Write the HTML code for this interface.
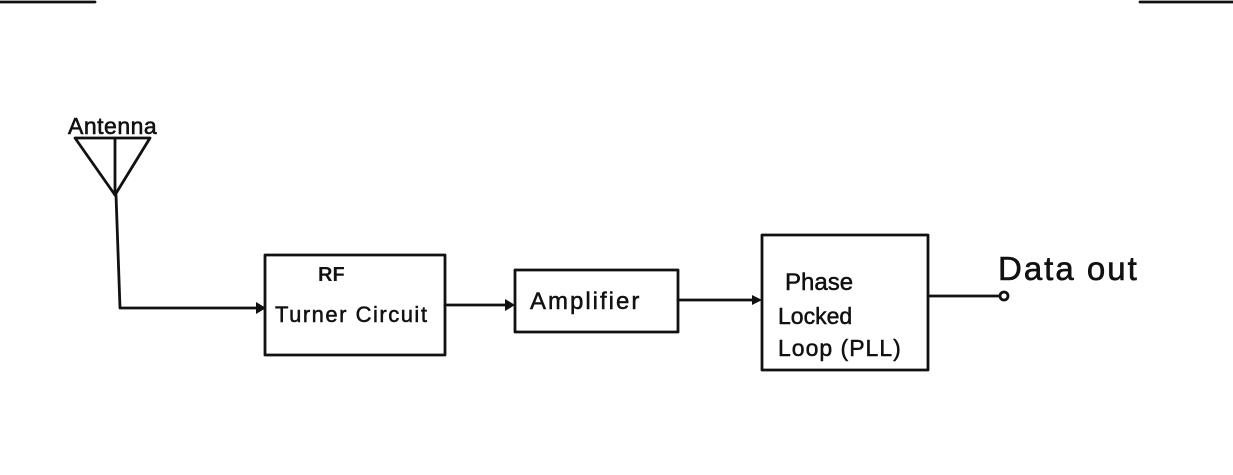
<!DOCTYPE html>
<html><head><meta charset="utf-8"><style>
html,body{margin:0;padding:0;background:#fff;}
svg{display:block}
text{font-family:"Liberation Sans",sans-serif;fill:#111;}
</style></head><body>
<svg width="1233" height="475" viewBox="0 0 1233 475" xmlns="http://www.w3.org/2000/svg">
<g stroke="#111" stroke-width="2.8" fill="none" stroke-linecap="round" stroke-linejoin="round">
<line x1="0" y1="2" x2="95" y2="2"/>
<line x1="1140" y1="2" x2="1233" y2="2"/>
<polygon points="75,138 150,138 115,195"/>
<line x1="115" y1="138" x2="115" y2="195"/>
<polyline points="116,195 120,308 258,308"/>
<rect x="265" y="255" width="180" height="100"/>
<line x1="445" y1="305" x2="507" y2="305"/>
<rect x="515" y="270" width="163" height="62"/>
<line x1="678" y1="300" x2="752" y2="300"/>
<rect x="762" y="235" width="166" height="135"/>
<line x1="928" y1="296" x2="1000" y2="296"/>
</g>
<g fill="#111">
<polygon points="266,308 256,302 256,314"/>
<polygon points="515,305 505,299 505,311"/>
<polygon points="762,300 752,295 752,305"/>
</g>
<circle cx="1004" cy="296" r="4" fill="none" stroke="#111" stroke-width="2.8"/>
<text x="68" y="134" font-size="23" letter-spacing="0.5" stroke="#111" stroke-width="0.6">Antenna</text>
<text x="318" y="281" font-size="20" font-weight="bold">RF</text>
<text x="275" y="322" font-size="22" letter-spacing="1.5" stroke="#111" stroke-width="0.5">Turner Circuit</text>
<text x="530" y="309" font-size="24" letter-spacing="2" stroke="#111" stroke-width="0.5">Amplifier</text>
<text x="785" y="290" font-size="24" stroke="#111" stroke-width="0.5">Phase</text>
<text x="778" y="324" font-size="23" stroke="#111" stroke-width="0.5">Locked</text>
<text x="778" y="356" font-size="23" letter-spacing="1" stroke="#111" stroke-width="0.5">Loop (PLL)</text>
<text x="998" y="280" font-size="33" letter-spacing="2" stroke="#111" stroke-width="0.6">Data out</text>
</svg>
</body></html>
